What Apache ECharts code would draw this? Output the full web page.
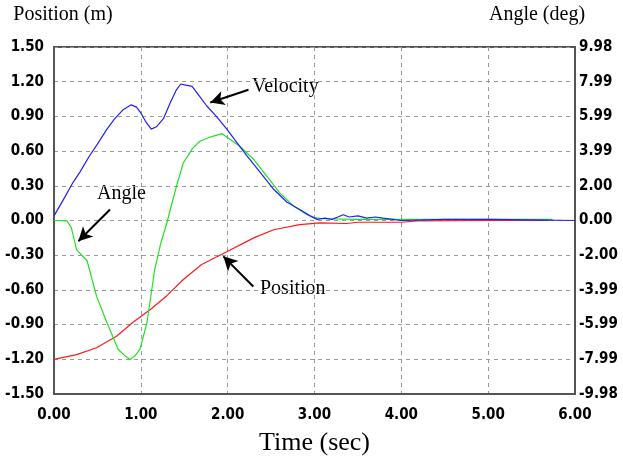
<!DOCTYPE html>
<html>
  <head>
    <meta charset="utf-8" />
    <title>Position / Angle / Velocity</title>
    <script src="https://cdn.jsdelivr.net/npm/echarts@6.0.0/dist/echarts.min.js"></script>
    <style>
      html, body { margin: 0; padding: 0; background: #fff; }
    </style>
  </head>
  <body>
    <div id="main" style="width: 623px;height:456px;"></div>
    <script type="text/javascript">
      // dados
      var velT = [0, 0.1, 0.22, 0.3, 0.41, 0.5, 0.61, 0.7, 0.8, 0.89, 0.95, 1.0, 1.06, 1.12, 1.18, 1.26, 1.34, 1.41, 1.46, 1.52, 1.59, 1.66, 1.76, 1.87, 1.99, 2.1, 2.22, 2.37, 2.53, 2.68, 2.83, 2.95, 3.03, 3.12, 3.2, 3.27, 3.33, 3.4, 3.5, 3.6, 3.7, 3.79, 3.9, 4.0, 4.5, 5.0, 5.5, 6.0];
      var velV = [0.04, 0.17, 0.33, 0.42, 0.56, 0.66, 0.79, 0.88, 0.96, 1.0, 0.98, 0.93, 0.85, 0.79, 0.81, 0.88, 1.02, 1.13, 1.18, 1.17, 1.16, 1.09, 0.99, 0.9, 0.79, 0.68, 0.56, 0.42, 0.27, 0.16, 0.095, 0.04, 0.01, 0.02, 0.01, 0.03, 0.05, 0.03, 0.04, 0.02, 0.03, 0.02, 0.01, 0.0, 0.01, 0.01, 0.005, 0.0];

      var angT = [0, 0.15, 0.2, 0.26, 0.32, 0.38, 0.49, 0.61, 0.74, 0.82, 0.875, 0.93, 0.99, 1.07, 1.16, 1.23, 1.3, 1.41, 1.49, 1.6, 1.68, 1.8, 1.93, 2.03, 2.14, 2.3, 2.45, 2.6, 2.76, 2.91, 3.0, 3.1, 3.5, 4.0, 4.5, 5.0, 5.74];
      var angV = [0, -0.02, -0.42, -1.67, -2.0, -2.3, -4.35, -5.88, -7.42, -7.8, -7.99, -7.8, -7.42, -5.88, -2.82, -1.3, -0.13, 1.97, 3.32, 4.18, 4.56, 4.8, 5.0, 4.66, 4.27, 3.51, 2.55, 1.59, 0.82, 0.35, 0.16, 0.1, 0.06, 0.06, 0.07, 0.06, 0.06];

      var posT = [0, 0.26, 0.49, 0.72, 0.91, 1.11, 1.3, 1.49, 1.7, 1.99, 2.3, 2.53, 2.83, 3.06, 3.37, 3.5, 4.0, 4.18, 5.0, 5.7];
      var posV = [-1.2, -1.16, -1.1, -1.0, -0.88, -0.77, -0.65, -0.51, -0.38, -0.27, -0.15, -0.08, -0.035, -0.02, -0.026, -0.015, -0.015, -0.003, 0.0, 0.0];

      var angleLabels = ['-9.98', '-7.99', '-5.99', '-3.99', '-2.00', '0.00', '2.00', '3.99', '5.99', '7.99', '9.98'];

      function pares(t, v) {
        var out = [];
        for (var i = 0; i < t.length; i++) {
          out.push([t[i], v[i]]);
        }
        return out;
      }

      var chart = echarts.init(document.getElementById('main'));

      var tickFont = {
        color: '#000',
        fontFamily: '"DejaVu Sans Condensed", "DejaVu Sans", sans-serif',
        fontWeight: 'bold',
        fontSize: 15
      };
      var gridDash = { color: '#999', type: [4, 4], width: 1 };

      var option = {
        animation: false,
        backgroundColor: '#fff',
        grid: {
          left: 54, right: 48, top: 47, bottom: 62,
          outerBoundsMode: 'none',
          show: true, borderColor: '#555', borderWidth: 2
        },
        xAxis: {
          type: 'value',
          min: 0, max: 6, interval: 1,
          name: 'Time (sec)',
          nameLocation: 'middle',
          nameGap: 36,
          nameMoveOverlap: false,
          nameTextStyle: { fontFamily: 'Liberation Serif', fontSize: 26, color: '#000' },
          axisLine: { onZero: false, lineStyle: { color: '#555', width: 2 } },
          axisTick: { show: false },
          axisLabel: Object.assign({ margin: 14, formatter: function (v) { return v.toFixed(2); } }, tickFont),
          splitLine: { show: true, lineStyle: gridDash }
        },
        yAxis: [
          {
            type: 'value',
            min: -1.5, max: 1.5, interval: 0.3,
            name: 'Position (m)',
            nameLocation: 'end',
            nameGap: 22,
            nameTextStyle: { fontFamily: 'Liberation Serif', fontSize: 20, color: '#000', align: 'center', padding: [0, 0, 0, 18] },
            axisLine: { show: true, onZero: false, lineStyle: { color: '#555', width: 2 } },
            axisTick: { show: false },
            axisLabel: Object.assign({ margin: 10, formatter: function (v) { return v.toFixed(2); } }, tickFont),
            splitLine: { show: true, lineStyle: gridDash }
          },
          {
            type: 'value',
            min: -9.98, max: 9.98, interval: 1.996,
            name: 'Angle (deg)',
            nameLocation: 'end',
            nameGap: 22,
            nameTextStyle: { fontFamily: 'Liberation Serif', fontSize: 20, color: '#000', align: 'center', padding: [0, 76, 0, 0] },
            axisLine: { show: true, onZero: false, lineStyle: { color: '#555', width: 2 } },
            axisTick: { show: false },
            axisLabel: Object.assign({
              margin: 4,
              formatter: function (v) { return angleLabels[Math.round(v / 1.996) + 5]; }
            }, tickFont),
            splitLine: { show: false }
          }
        ],
        series: [
          {
            name: 'Position',
            type: 'line',
            yAxisIndex: 0,
            showSymbol: false,
            lineStyle: { color: '#ff1a1a', width: 1.2 },
            data: pares(posT, posV)
          },
          {
            name: 'Angle',
            type: 'line',
            yAxisIndex: 1,
            showSymbol: false,
            lineStyle: { color: '#22e022', width: 1.2 },
            data: pares(angT, angV)
          },
          {
            name: 'Velocity',
            type: 'line',
            yAxisIndex: 0,
            showSymbol: false,
            lineStyle: { color: '#2020ff', width: 1.2 },
            data: pares(velT, velV),
            // setas das anotacoes
            markLine: {
              silent: true,
              symbol: ['none', 'arrow'],
              symbolSize: [11, 14],
              label: { show: false },
              lineStyle: { color: '#000', width: 2, type: 'solid' },
              data: [
                [{ coord: [2.24, 1.13] }, { coord: [1.8, 1.02] }],
                [{ coord: [0.645, 0.095] }, { coord: [0.28, -0.18] }],
                [{ coord: [2.295, -0.57] }, { coord: [1.95, -0.31] }]
              ]
            }
          }
        ],
        graphic: [
          { type: 'text', left: 252, top: 77, style: { text: 'Velocity', font: '20px "Liberation Serif"', fill: '#000' } },
          { type: 'text', left: 97, top: 184, style: { text: 'Angle', font: '20px "Liberation Serif"', fill: '#000' } },
          { type: 'text', left: 260, top: 279, style: { text: 'Position', font: '20px "Liberation Serif"', fill: '#000' } }
        ]
      };
      chart.setOption(option);
    </script>
  </body>
</html>
